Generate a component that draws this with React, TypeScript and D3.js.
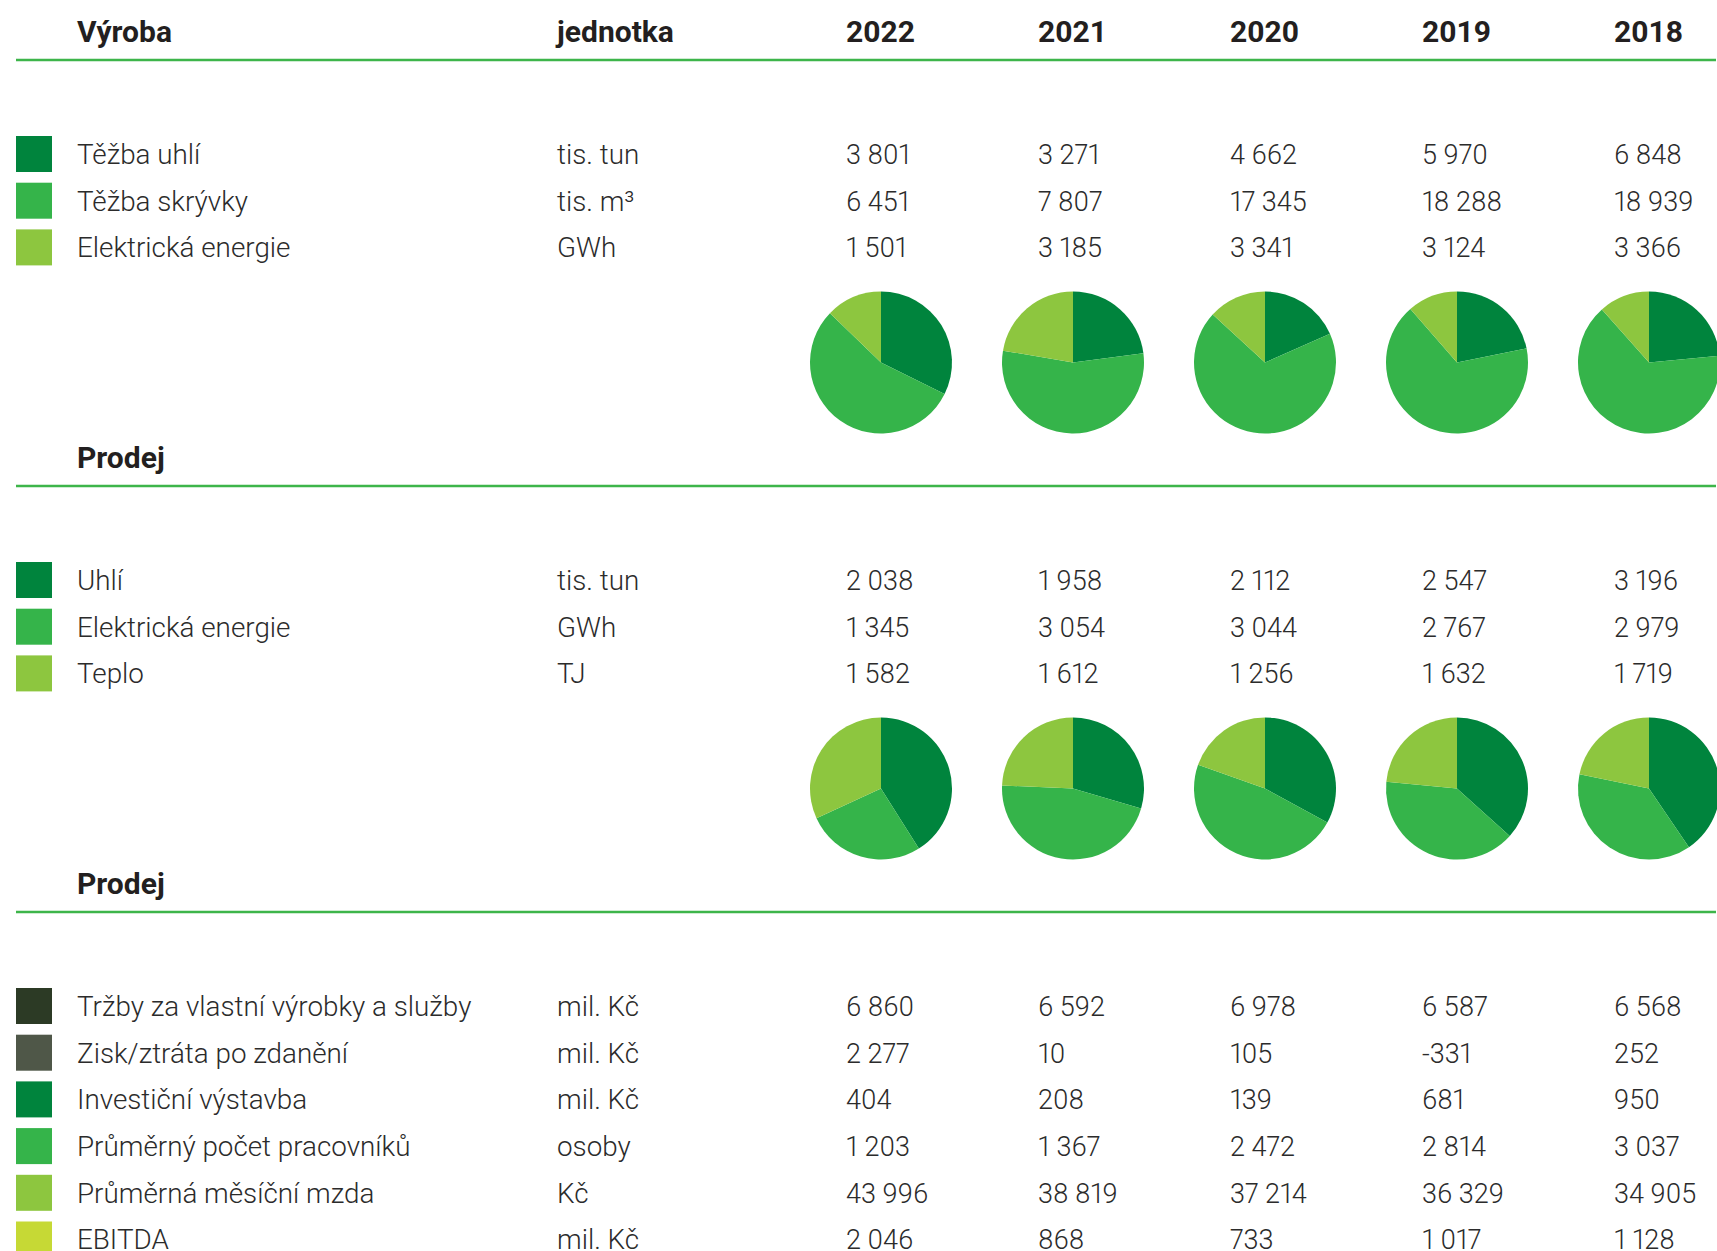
import React, { useEffect, useRef } from "react";
import * as d3 from "d3";

// --- data ---
const years = ["2022", "2021", "2020", "2019", "2018"];

const vyrobaLabels = ["Těžba uhlí", "Těžba skrývky", "Elektrická energie"];
const vyrobaUnits = ["tis. tun", "tis. m³", "GWh"];
const tezbaUhli = [3801, 3271, 4662, 5970, 6848];
const tezbaSkryvky = [6451, 7807, 17345, 18288, 18939];
const vyrobaElektrina = [1501, 3185, 3341, 3124, 3366];

const prodejLabels = ["Uhlí", "Elektrická energie", "Teplo"];
const prodejUnits = ["tis. tun", "GWh", "TJ"];
const prodejUhli = [2038, 1958, 2112, 2547, 3196];
const prodejElektrina = [1345, 3054, 3044, 2767, 2979];
const prodejTeplo = [1582, 1612, 1256, 1632, 1719];

const ekonLabels = [
  "Tržby za vlastní výrobky a služby",
  "Zisk/ztráta po zdanění",
  "Investiční výstavba",
  "Průměrný počet pracovníků",
  "Průměrná měsíční mzda",
  "EBITDA",
];
const ekonUnits = ["mil. Kč", "mil. Kč", "mil. Kč", "osoby", "Kč", "mil. Kč"];
const trzby = [6860, 6592, 6978, 6587, 6568];
const zisk = [2277, 10, 105, -331, 252];
const investice = [404, 208, 139, 681, 950];
const pracovnici = [1203, 1367, 2472, 2814, 3037];
const mzda = [43996, 38819, 37214, 36329, 34905];
const ebitda = [2046, 868, 733, 1017, 1128];

const greens = ["#00843d", "#35b44a", "#8dc63f"];
const ekonColors = ["#2c3a25", "#4f5748", "#00843d", "#35b44a", "#8dc63f", "#c6d935"];

const sections = [
  { title: "Výroba", header: true, labels: vyrobaLabels, units: vyrobaUnits, series: [tezbaUhli, tezbaSkryvky, vyrobaElektrina], colors: greens, pies: true },
  { title: "Prodej", header: false, labels: prodejLabels, units: prodejUnits, series: [prodejUhli, prodejElektrina, prodejTeplo], colors: greens, pies: true },
  { title: "Prodej", header: false, labels: ekonLabels, units: ekonUnits, series: [trzby, zisk, investice, pracovnici, mzda, ebitda], colors: ekonColors, pies: false },
];

const W = 1717;
const H = 1251;
const FONT = "Roboto, 'Liberation Sans', sans-serif";

const App = () => {
  const svgRef = useRef(null);

  useEffect(() => {
    const svg = d3.select(svgRef.current);
    svg.selectAll("*").remove();

    const fmt = d3.formatLocale({ decimal: ",", thousands: "\u00a0", grouping: [3], currency: ["", ""], minus: "-" }).format(",d");

    // layout
    const lineLeft = 16, lineRight = 1716;
    const sq = 36;
    const labelX = 77, unitX = 557;
    const sectionStep = 426, firstLine = 60;
    const rowStep = 46.7, firstRowGap = 76;
    const pieGap = 302.5, pieR = 71, pieShift = 35;

    const x = d3.scaleBand().domain(years).range([846, 846 + 192 * years.length]).paddingInner(0).paddingOuter(0);

    const pie = d3.pie().sort(null).value((d) => d);
    const arc = d3.arc().innerRadius(0).outerRadius(pieR);

    const bold = (sel) =>
      sel.style("font-family", FONT).style("font-weight", 700).style("font-size", "30px").attr("fill", "#231f20");

    sections.forEach((s, si) => {
      const lineY = firstLine + si * sectionStep;
      const g = svg.append("g");

      // header
      const headY = lineY - 18.3;
      bold(g.append("text").attr("x", labelX).attr("y", headY)).text(s.title);
      if (s.header) {
        bold(g.append("text").attr("x", unitX).attr("y", headY)).text("jednotka");
        bold(
          g.selectAll(".yr").data(years).enter().append("text")
            .attr("x", (d) => x(d)).attr("y", headY)
        ).text((d) => d);
      }

      g.append("line")
        .attr("x1", lineLeft).attr("x2", lineRight)
        .attr("y1", lineY).attr("y2", lineY)
        .attr("stroke", "#3db54a").attr("stroke-width", 2.5);

      // rows
      s.labels.forEach((lab, ri) => {
        const top = lineY + firstRowGap + ri * rowStep;
        const base = top + sq / 2 + 9.8;
        g.append("rect")
          .attr("x", lineLeft).attr("y", top)
          .attr("width", sq).attr("height", sq)
          .attr("fill", s.colors[ri]);
        const rowText = (tx, str, size) =>
          g.append("text")
            .attr("x", tx).attr("y", base)
            .style("font-family", FONT).style("font-weight", 300).style("font-size", size)
            .style("font-variant-numeric", "proportional-nums")
            .attr("fill", "#2b2b2b")
            .text(str);
        rowText(labelX, lab, "27.8px");
        rowText(unitX, s.units[ri], "27.8px");
        years.forEach((yr, yi) => rowText(x(yr), fmt(s.series[ri][yi]), "27px"));
      });

      // pies
      if (s.pies) {
        const cy = lineY + pieGap;
        years.forEach((yr, yi) => {
          const vals = s.series.map((arr) => arr[yi]);
          g.append("g")
            .attr("transform", `translate(${x(yr) + pieShift},${cy})`)
            .selectAll("path")
            .data(pie(vals))
            .enter()
            .append("path")
            .attr("d", arc)
            .attr("fill", (d, i) => s.colors[i]);
        });
      }
    });
  }, []);

  return (
    <svg
      ref={svgRef}
      width={W}
      height={H}
      style={{ position: "absolute", left: 0, top: 0, background: "white" }}
    />
  );
};

export default App;
